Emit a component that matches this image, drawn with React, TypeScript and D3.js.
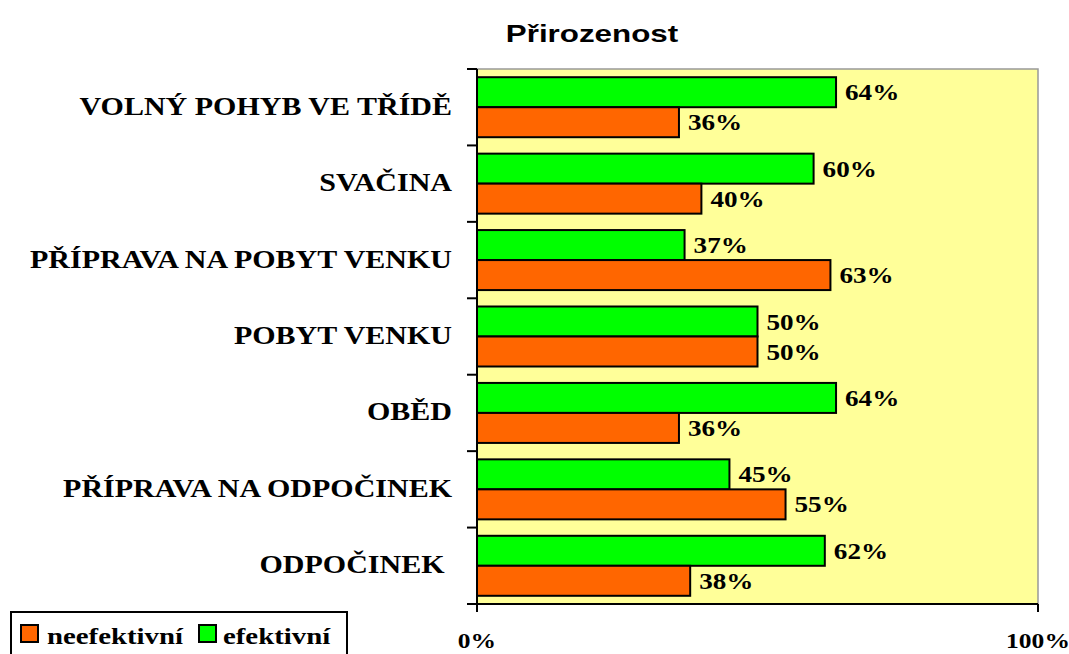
import * as d3 from "d3";
import React from "react";

const categories = [
  "VOLNÝ POHYB VE TŘÍDĚ",
  "SVAČINA",
  "PŘÍPRAVA NA POBYT VENKU",
  "POBYT VENKU",
  "OBĚD",
  "PŘÍPRAVA NA ODPOČINEK",
  "ODPOČINEK ",
];
const efektivni = [64, 60, 37, 50, 64, 45, 62];
const neefektivni = [36, 40, 63, 50, 36, 55, 38];
const xTicks = [0, 100];

const W = 1069;
const H = 654;
const plot = { left: 477, right: 1038, top: 69, bottom: 604 };
const serif = "Liberation Serif";
const sans = "Liberation Sans";

// text with a horizontal stretch, the source picture is wider than tall
function T({ x, y, size, sx, anchor = "start", family = serif, children }: any) {
  return (
    <text
      transform={`translate(${x},${y}) scale(${sx},1)`}
      textAnchor={anchor}
      fontFamily={family}
      fontWeight="bold"
      fontSize={size}
      style={{ whiteSpace: "pre" }}
    >
      {children}
    </text>
  );
}

export default function App() {
  const x = d3.scaleLinear().domain([0, 100]).range([plot.left, plot.right]);
  const y = d3
    .scaleBand<string>()
    .domain(categories)
    .range([plot.top, plot.bottom]);
  const band = y.bandwidth();
  const barH = 30;

  return (
    <svg
      width={W}
      height={H}
      style={{ position: "absolute", left: 0, top: 0, background: "#fff" }}
    >
      <T x={592} y={42} size={24.5} sx={1.28} anchor="middle" family={sans}>
        Přirozenost
      </T>

      {/* plot area */}
      <rect
        x={plot.left}
        y={plot.top}
        width={plot.right - plot.left}
        height={plot.bottom - plot.top}
        fill="#FFFF99"
        stroke="#999"
        strokeWidth={1.5}
      />

      {categories.map((c, i) => {
        const g0 = y(c)!;
        const yG = g0 + (band - 2 * barH) / 2;
        const yO = yG + barH;
        return (
          <g key={c}>
            <rect
              x={x(0)}
              y={yG}
              width={x(efektivni[i]) - x(0)}
              height={barH}
              fill="#00FF00"
              stroke="#000"
              strokeWidth={2}
            />
            <rect
              x={x(0)}
              y={yO}
              width={x(neefektivni[i]) - x(0)}
              height={barH}
              fill="#FF6600"
              stroke="#000"
              strokeWidth={2}
            />
            <T x={x(efektivni[i]) + 9} y={yG + barH / 2 + 8} size={23} sx={1.18}>
              {efektivni[i]}%
            </T>
            <T x={x(neefektivni[i]) + 9} y={yO + barH / 2 + 8} size={23} sx={1.18}>
              {neefektivni[i]}%
            </T>
            <T x={452} y={g0 + band / 2 + 7.5} size={25} sx={1.2} anchor="end">
              {c}
            </T>
          </g>
        );
      })}

      {/* axes */}
      <line x1={plot.left} x2={plot.left} y1={plot.top} y2={plot.bottom + 1} stroke="#000" strokeWidth={2} />
      <line x1={plot.left - 10} x2={plot.right} y1={plot.bottom} y2={plot.bottom} stroke="#000" strokeWidth={2} />
      {d3.range(categories.length + 1).map((i) => (
        <line
          key={i}
          x1={plot.left - 10}
          x2={plot.left}
          y1={plot.top + i * band}
          y2={plot.top + i * band}
          stroke="#000"
          strokeWidth={2}
        />
      ))}
      {xTicks.map((t) => (
        <g key={t}>
          <line x1={x(t)} x2={x(t)} y1={plot.bottom} y2={plot.bottom + 8} stroke="#000" strokeWidth={2} />
          <T x={x(t)} y={648} size={22} sx={1.16} anchor="middle">
            {t}%
          </T>
        </g>
      ))}

      {/* legend */}
      <rect x={11} y={612} width={336} height={50} fill="#fff" stroke="#000" strokeWidth={2} />
      <rect x={21} y={625} width={17} height={17} fill="#FF6600" stroke="#000" strokeWidth={2} />
      <T x={47} y={644} size={24} sx={1.2}>
        neefektivní
      </T>
      <rect x={199} y={625} width={17} height={17} fill="#00FF00" stroke="#000" strokeWidth={2} />
      <T x={223} y={644} size={24} sx={1.2}>
        efektivní
      </T>
    </svg>
  );
}
